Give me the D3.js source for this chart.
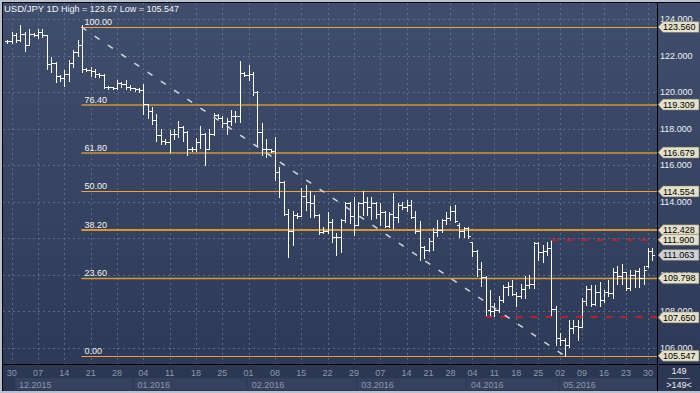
<!DOCTYPE html>
<html><head><meta charset="utf-8">
<script src="https://cdn.jsdelivr.net/npm/d3@7"></script>
<style>
html,body{margin:0;padding:0;background:#2c3652;}
svg{display:block;}
text{font-family:"Liberation Sans",Arial,sans-serif;}
</style></head><body>
<svg id="c" width="700" height="393"></svg>
<script>
// ---------- DATA (daily bars, USD/JPY) ----------
const open  = [122.80,122.78,123.10,122.85,123.20,122.60,123.20,123.12,123.30,123.10,121.55,121.60,120.90,120.75,121.00,121.60,122.20,122.60,121.25,121.20,121.15,121.00,120.95,120.30,120.25,120.20,120.50,120.45,120.30,120.20,120.15,
120.10,119.35,118.95,118.45,117.65,117.30,117.25,117.70,117.70,118.10,117.80,116.90,116.85,117.25,117.70,116.90,117.70,118.75,118.60,118.30,118.40,118.70,118.70,121.05,
120.95,121.00,120.00,117.80,116.90,116.85,116.75,115.60,115.05,113.30,112.40,113.25,113.20,114.30,114.00,113.90,113.25,112.35,112.40,112.85,112.05,112.05,113.00,113.90,113.20,
112.70,113.90,114.00,113.70,113.90,113.30,113.40,112.65,113.30,113.15,113.80,113.70,113.80,113.15,112.40,111.50,111.35,111.85,112.35,112.45,113.00,113.10,113.50,112.70,112.40,112.55,
111.80,111.30,110.30,109.85,108.05,108.00,108.05,108.60,109.30,109.35,108.95,108.80,109.20,109.45,109.50,111.70,111.25,111.30,111.45,108.10,
106.50,106.40,106.15,107.05,107.20,107.10,108.55,109.20,108.40,109.05,108.60,109.05,109.00,110.15,109.90,110.15,109.25,109.95,110.20,109.80,110.45,111.30];
const high  = [122.85,123.30,123.25,123.67,123.30,123.45,123.25,123.45,123.45,123.12,121.90,121.65,120.95,121.20,121.75,122.30,122.85,123.67,121.30,121.35,121.25,121.05,121.00,120.35,120.30,120.65,120.55,120.65,120.40,120.22,120.20,
120.45,119.35,119.20,118.80,118.00,117.40,117.90,118.00,118.40,118.15,117.85,117.00,117.50,118.15,117.75,118.00,118.85,118.80,118.70,118.55,119.00,118.95,121.70,121.10,
121.50,121.10,120.05,118.30,117.40,116.90,117.55,115.90,115.10,113.60,113.50,113.35,114.75,114.90,114.60,114.35,113.30,112.60,113.40,113.05,112.30,113.05,114.00,113.95,114.25,
114.00,114.55,114.25,114.25,113.95,113.90,113.50,113.45,114.45,113.90,113.95,114.10,114.10,113.50,112.95,111.55,112.00,112.55,113.00,113.05,113.40,113.75,113.80,112.80,112.60,112.60,
111.80,111.35,110.70,109.90,109.15,108.45,108.80,109.40,109.60,109.70,109.05,109.50,109.90,109.97,111.80,111.80,111.60,111.80,111.90,108.25,
106.80,106.50,107.50,107.50,107.50,108.70,109.35,109.40,109.40,109.60,109.15,109.70,110.35,110.45,110.60,110.15,110.25,110.25,110.35,110.45,111.45,111.45];
const low   = [122.67,122.67,122.75,122.78,122.25,122.55,123.05,122.95,123.00,121.25,121.10,120.55,120.60,120.35,120.60,121.35,122.00,121.10,121.15,120.90,120.80,120.80,120.20,120.15,120.15,120.15,120.25,120.15,120.10,120.05,119.98,
118.80,118.60,118.25,117.30,117.15,117.15,116.70,117.40,117.55,117.30,116.55,116.75,116.75,116.95,116.00,116.85,117.65,118.55,118.10,117.70,118.20,118.35,118.35,120.85,
120.65,119.85,117.10,116.55,116.45,116.70,115.20,114.25,113.25,110.95,111.60,113.10,113.20,113.55,113.15,113.15,112.20,112.30,112.25,111.80,111.05,111.25,112.90,112.80,112.15,
112.70,113.25,113.25,113.05,113.10,112.70,112.60,112.60,112.55,112.90,113.60,113.50,113.10,112.30,110.80,110.90,111.30,111.35,112.10,112.35,112.75,113.00,112.90,112.05,112.05,112.00,
111.00,109.90,109.35,107.65,107.70,107.70,107.95,108.50,108.90,108.90,108.30,108.70,108.70,109.25,109.25,110.80,110.70,111.07,107.70,106.15,
106.15,105.55,106.05,106.80,106.40,107.10,108.35,108.25,108.35,108.25,108.50,108.80,108.70,109.50,109.50,109.15,109.15,109.30,109.30,109.50,110.40,110.80];
const close = [122.78,123.10,122.85,123.20,122.60,123.20,123.12,123.30,123.10,121.55,121.60,120.90,120.75,121.00,121.60,122.20,122.60,121.25,121.20,121.15,121.00,120.95,120.30,120.25,120.20,120.50,120.45,120.30,120.20,120.15,120.10,
119.35,118.95,118.45,117.65,117.30,117.25,117.70,117.70,118.10,117.80,116.90,116.85,117.25,117.70,116.90,117.70,118.75,118.60,118.30,118.40,118.70,118.70,121.05,120.95,
121.00,120.00,117.80,116.90,116.85,116.75,115.60,115.05,113.30,112.40,113.25,113.20,114.30,114.00,113.90,113.25,112.35,112.40,112.85,112.05,112.05,113.00,113.90,113.20,112.70,
113.90,114.00,113.70,113.90,113.30,113.40,112.65,113.30,113.15,113.80,113.70,113.80,113.15,112.40,111.50,111.35,111.85,112.35,112.45,113.00,113.10,113.50,112.95,112.40,112.55,112.10,
111.30,110.30,109.85,107.70,108.00,108.05,108.60,109.30,109.35,108.95,108.80,109.20,109.45,109.50,111.70,111.25,111.30,111.45,108.10,106.50,
106.40,106.15,107.05,107.20,107.10,108.55,109.20,108.40,109.05,108.60,109.05,109.00,110.15,109.90,110.15,109.25,109.95,110.20,109.80,110.25,111.30,111.063];

const dayTickIndex  = [1,7,13,19,25,31,37,43,49,55,61,67,73,79,85,91,96,101,106,111,116,121,126,131,136,141,146];
const dayTickLabels = ["30","07","14","21","28","04","11","18","25","01","08","15","22","29","07","14","21","28","04","11","18","25","02","09","16","23","30"];
const monthIndex  = [2,29,55,80,105,126];
const monthLabels = ["12.2015","01.2016","02.2016","03.2016","04.2016","05.2016"];

const gridPrices = [124,122,120,118,116,114,112,110,108,106];
const axisLabelPrices = [124,122,120,118,116,114,110,108,106];   // 112.000 is fully hidden under the tags
const fibRatios  = ["100.00","76.40","61.80","50.00","38.20","23.60","0.00"];
const fibPrices  = [123.560,119.309,116.679,114.554,112.428,109.798,105.547];
const fibFromIndex = 17, fibToIndex = 127;          // swing high bar -> swing low bar
const markPrices = [111.900, 107.650];
const markFromIndex = [124, 109];
const tagPrices = [123.560,119.309,116.679,114.554,112.428,111.900,109.798,107.650,105.547];
const lastPrice = 111.063;
const titleSymbol = "USD/JPY 1D";
const titleStats = "High = 123.67 Low = 105.547";
const barCountLabel = "149";

// ---------- LAYOUT ----------
const W = 700, H = 393;
const plot = {l:3, t:3, r:657, b:364};
const svg = d3.select("#c");
const defs = svg.append("defs");
const g1 = defs.append("linearGradient").attr("id","bg").attr("x1",0).attr("y1",0).attr("x2",0).attr("y2",1);
g1.append("stop").attr("offset","0%").attr("stop-color","#404e6d");
g1.append("stop").attr("offset","100%").attr("stop-color","#2c3856");
defs.append("clipPath").attr("id","pc").append("rect")
  .attr("x",plot.l).attr("y",plot.t).attr("width",plot.r-plot.l).attr("height",plot.b-plot.t);

// frame
svg.append("rect").attr("x",0).attr("y",0).attr("width",W).attr("height",H).attr("fill","#b9c1cf");
svg.append("rect").attr("x",2).attr("y",2).attr("width",W-2).attr("height",H-4).attr("fill","#000");
svg.append("rect").attr("x",plot.l).attr("y",plot.t).attr("width",W-plot.l).attr("height",H-plot.t-2).attr("fill","url(#bg)");
svg.append("rect").attr("x",plot.l).attr("y",plot.b+1).attr("width",W-plot.l).attr("height",H-plot.b-3).attr("fill","#2c3753");

const n = open.length;
const x = d3.scaleLinear().domain([0, n-1]).range([7.3, 652.3]);
const y = d3.scaleLinear().domain([124, 106]).range([19, 347.5]);
const px = i => Math.round(x(i));
const py = v => Math.round(y(v));

const gp = svg.append("g").attr("clip-path","url(#pc)");

// grid
gp.selectAll("line.hg").data(gridPrices).join("line")
  .attr("x1",plot.l).attr("x2",plot.r).attr("y1",d=>py(d)+0.5).attr("y2",d=>py(d)+0.5)
  .attr("stroke","#6a7898").attr("stroke-width",1).attr("stroke-dasharray","2,3").attr("opacity",0.75);
gp.selectAll("line.vg").data(dayTickIndex).join("line")
  .attr("y1",plot.t).attr("y2",plot.b).attr("x1",d=>px(d)+0.5).attr("x2",d=>px(d)+0.5)
  .attr("stroke","#6a7898").attr("stroke-width",1).attr("stroke-dasharray","2,3").attr("opacity",0.75);

// fibonacci levels
const fibStyle = [
  {c:"#e8a53c", w:1},{c:"#a8823e", w:2},{c:"#a8823e", w:2},{c:"#eea432", w:1},
  {c:"#d8952c", w:2},{c:"#dc9a2e", w:1.5},{c:"#e8a236", w:1}];
const fx0 = x(fibFromIndex) - 0.5;
fibPrices.forEach((p,k)=>{
  const yy = Math.round(y(p)) + (fibStyle[k].w===2 ? 0 : 0.5);
  gp.append("line").attr("x1",fx0).attr("x2",plot.r).attr("y1",yy).attr("y2",yy)
    .attr("stroke",fibStyle[k].c).attr("stroke-width",fibStyle[k].w);
  gp.append("text").attr("x",fx0+3).attr("y",yy-2.5).attr("fill","#f2f2f2")
    .attr("font-size","9px").text(fibRatios[k]);
});

// OHLC bars
const bars = gp.append("g").attr("fill","#ffffff").attr("shape-rendering","crispEdges");
d3.range(n).forEach(i=>{
  const xi = px(i), yh = py(high[i]), yl = py(low[i]);
  bars.append("rect").attr("x",xi).attr("y",yh).attr("width",1).attr("height",Math.max(1,yl-yh+1));
  bars.append("rect").attr("x",xi-2).attr("y",py(open[i])).attr("width",2).attr("height",1);
  bars.append("rect").attr("x",xi+1).attr("y",py(close[i])).attr("width",2).attr("height",1);
});

// swing marks (red dashed)
markPrices.forEach((p,k)=>{
  gp.append("line").attr("x1",x(markFromIndex[k])).attr("x2",plot.r).attr("y1",Math.round(y(p))).attr("y2",Math.round(y(p)))
    .attr("stroke","#b0242e").attr("stroke-width",2).attr("stroke-dasharray","7,8");
});

// trend line (dashed)
gp.append("line").attr("x1",fx0).attr("y1",y(fibPrices[0]))
  .attr("x2",x(fibToIndex)).attr("y2",y(fibPrices[fibPrices.length-1]))
  .attr("stroke","#cfd3dc").attr("stroke-width",1.5).attr("stroke-dasharray","6,10");

// title
svg.append("text").attr("x",4).attr("y",12).attr("fill","#f4f4f4").attr("font-size","9.5px").text(titleSymbol);
svg.append("text").attr("x",61).attr("y",12).attr("fill","#f4f4f4").attr("font-size","9px").text(titleStats);

// separators
svg.append("line").attr("x1",plot.r+0.5).attr("x2",plot.r+0.5).attr("y1",plot.t).attr("y2",H-2).attr("stroke","#000");
svg.append("line").attr("x1",plot.l).attr("x2",W).attr("y1",plot.b+0.5).attr("y2",plot.b+0.5).attr("stroke","#000");

// right axis labels (partly covered by the price tags, as in the original)
svg.selectAll("text.ya").data(axisLabelPrices).join("text")
  .attr("x",660).attr("y",d=>y(d)+3.3).attr("fill","#eef0f4").attr("font-size","9px")
  .text(d=>d3.format(".3f")(d));

// price tags
function tag(p, fill){
  const yy = y(p);
  svg.append("path").attr("d",`M658,${yy} L663,${yy-5.5} L699,${yy-5.5} L699,${yy+5.5} L663,${yy+5.5} Z`)
    .attr("fill",fill).attr("stroke","#6f6c5c").attr("stroke-width",0.6);
  svg.append("text").attr("x",663).attr("y",yy+3.3).attr("fill","#000").attr("font-size","9px")
    .text(d3.format(".3f")(p));
}
tagPrices.forEach(p=>tag(p,"#e4e1ca"));
tag(lastPrice,"#cfd0d4");

// bottom axis: day labels
svg.selectAll("text.dx").data(dayTickIndex).join("text")
  .attr("x",d=>x(d)).attr("y",376).attr("text-anchor","middle").attr("fill","#8e98ad").attr("font-size","9px")
  .text((d,k)=>dayTickLabels[k]);
// month boxes
monthIndex.forEach((mi,k)=>{
  const bx = x(mi)-1;
  const ex = k<monthIndex.length-1 ? x(monthIndex[k+1])-2 : plot.r-1;
  svg.append("rect").attr("x",bx).attr("y",378).attr("width",ex-bx).attr("height",12).attr("fill","#36415d");
  svg.append("text").attr("x",bx+4).attr("y",387.5).attr("fill","#8e98ad").attr("font-size","9px").text(monthLabels[k]);
});

// bar counter corner
svg.append("text").attr("x",679).attr("y",374).attr("text-anchor","middle").attr("fill","#f0f0f0").attr("font-size","9px").text(barCountLabel);
svg.append("line").attr("x1",668).attr("x2",690).attr("y1",378.5).attr("y2",378.5).attr("stroke","#9098a8");
svg.append("text").attr("x",679).attr("y",388).attr("text-anchor","middle").attr("fill","#f0f0f0").attr("font-size","9px").text(">"+barCountLabel+"<");
</script>
</body></html>
